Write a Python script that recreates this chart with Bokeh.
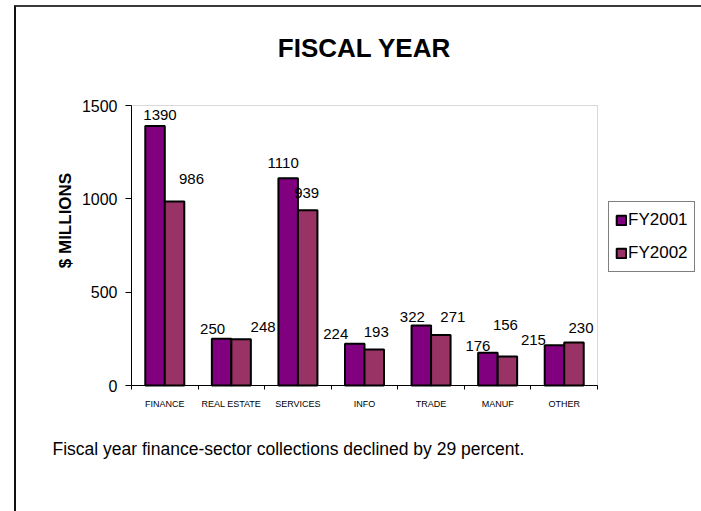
import math
from bokeh.plotting import figure
from bokeh.models import (ColumnDataSource, FixedTicker, Label, LabelSet, Legend,
                          LegendItem, Range1d, BoxAnnotation, InlineStyleSheet)
from bokeh.embed import file_html
from bokeh.resources import INLINE
from bokeh.core.properties import value

# ---------------- data ----------------
categories = ["FINANCE", "REAL ESTATE", "SERVICES", "INFO", "TRADE", "MANUF", "OTHER"]
fy2001 = [1390, 250, 1110, 224, 322, 176, 215]
fy2002 = [986, 248, 939, 193, 271, 156, 230]
series_names = ["FY2001", "FY2002"]
y_ticks = [0, 500, 1000, 1500]
y_max = 1500
title_text = "FISCAL YEAR"
y_title = "$ MILLIONS"
note_text = "Fiscal year finance-sector collections declined by 29 percent."

# label placement offsets (screen px, styling only)
lab_dx_2001 = [5, -9, -5, -19, -9, -10, -21]
lab_dy_2001 = [11, 10, 15, 10, 8, 7, 5]
lab_dx_2002 = [17, 22, -1, 2, 12, -2, 7]
lab_dy_2002 = [22, 12, 17, 17, 18, 31, 15]

# ---------------- layout ----------------
W, H = 701, 511
n = len(categories)
# wanted pixel box of the chart area
PX0, PX1, PY0, PY1 = 131, 597, 385, 105     # x=0, x=n, y=0, y=y_max
MB_L, MB_B = 52, 30                          # canvas borders (axis panels)
FL, FR, FT, FB = MB_L, W, 0, H - MB_B        # actual plot frame
sx = (PX1 - PX0) / n                          # px per x unit
sy = (PY0 - PY1) / y_max                      # px per y unit

def xd(px):
    return (px - PX0) / sx

def yd(py):
    return (PY0 - py) / sy

FONT_NAME = "Liberation Sans"
FONT = value(FONT_NAME)
C1, C2 = "#800080", "#993366"
BW = 0.293

frame_css = InlineStyleSheet(css="""
:host { position: relative; }
:host::after {
  content: ''; position: absolute; left: 14px; top: 5px; right: 0; bottom: 0;
  border-left: 2px solid #111111; border-top: 2px solid #3a3a3a;
  pointer-events: none;
}
""")

p = figure(width=W, height=H, output_backend="svg", toolbar_location=None,
           x_range=Range1d(xd(FL), xd(FR)), y_range=Range1d(yd(FB), yd(FT)),
           min_border_left=MB_L, min_border_right=0,
           min_border_top=0, min_border_bottom=MB_B,
           background_fill_color="white", border_fill_color="white")
p.stylesheets = [frame_css]
p.xgrid.visible = False
p.ygrid.visible = False
p.outline_line_color = None

# plot-area border (grey top/right)
p.add_layout(BoxAnnotation(left=0, right=n, bottom=0, top=y_max, level="underlay",
                           fill_alpha=0, line_color="#808080", line_width=1))

x1 = [i + 0.5 - BW / 2 for i in range(n)]
x2 = [i + 0.5 + BW / 2 for i in range(n)]
src = ColumnDataSource(dict(x1=x1, x2=x2, y1=fy2001, y2=fy2002))
r1 = p.vbar(x="x1", top="y1", width=BW, bottom=0, source=src,
            fill_color=C1, line_color="black", line_width=2)
r2 = p.vbar(x="x2", top="y2", width=BW, bottom=0, source=src,
            fill_color=C2, line_color="black", line_width=2)

lab_src = ColumnDataSource(dict(
    x=x1 + x2, y=fy2001 + fy2002,
    t=[str(v) for v in fy2001 + fy2002],
    dx=lab_dx_2001 + lab_dx_2002, dy=lab_dy_2001 + lab_dy_2002))
p.add_layout(LabelSet(x="x", y="y", text="t", source=lab_src,
                      x_offset="dx", y_offset="dy",
                      text_align="center", text_baseline="middle",
                      text_font=FONT, text_font_size="15px", text_color="black"))

# axes, pinned at the data origin
xa = p.xaxis[0]
xa.fixed_location = 0
xa.bounds = (0, n)
xa.ticker = FixedTicker(ticks=[i + 0.5 for i in range(n)],
                        minor_ticks=list(range(n + 1)))
xa.major_label_overrides = {i + 0.5: c for i, c in enumerate(categories)}
xa.major_tick_line_color = None
xa.minor_tick_out = 4
xa.minor_tick_in = 0
xa.minor_tick_line_color = "black"
xa.axis_line_color = "black"
xa.major_label_standoff = 7
xa.major_label_text_font = FONT_NAME
xa.major_label_text_font_size = "9px"
xa.major_label_text_color = "black"

ya = p.yaxis[0]
ya.fixed_location = 0
ya.bounds = (0, y_max)
ya.ticker = FixedTicker(ticks=y_ticks, minor_ticks=[])
ya.major_tick_out = 6
ya.major_tick_in = 0
ya.major_tick_line_color = "black"
ya.axis_line_color = "black"
ya.major_label_standoff = 8
ya.major_label_text_font = FONT_NAME
ya.major_label_text_font_size = "16px"
ya.major_label_text_color = "black"

# texts
p.add_layout(Label(x=n / 2, y=yd(47), text=title_text, text_align="center",
                   text_baseline="alphabetic", text_font=FONT_NAME,
                   text_font_size="26px", text_font_style="bold", text_color="black"))
p.add_layout(Label(x=xd(65), y=yd(220), text=y_title, angle=math.pi / 2,
                   text_align="center", text_baseline="alphabetic", text_font=FONT_NAME,
                   text_font_size="17px", text_font_style="bold", text_color="black"))
p.add_layout(Label(x=xd(52), y=yd(448), text=note_text, text_align="left",
                   text_baseline="alphabetic", text_font=FONT_NAME,
                   text_font_size="17.5px", text_color="black"))

legend = Legend(items=[LegendItem(label=series_names[0], renderers=[r1]),
                       LegendItem(label=series_names[1], renderers=[r2])],
                location=(608 - FL, FB - 272), orientation="vertical",
                glyph_width=12, glyph_height=12, label_height=24, spacing=9,
                padding=6, margin=0, label_standoff=1,
                label_text_font=FONT_NAME, label_text_font_size="17px",
                label_text_color="black",
                border_line_color="black", border_line_width=1,
                background_fill_color="white", background_fill_alpha=1)
p.add_layout(legend)

open("out.html", "w").write(file_html(p, INLINE))
